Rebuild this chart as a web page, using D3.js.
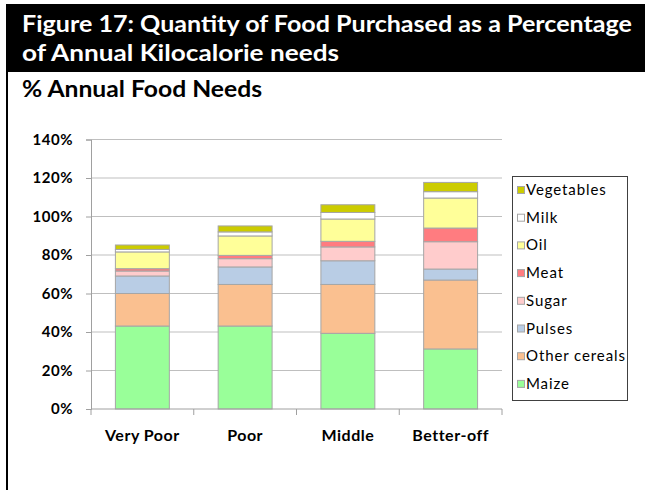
<!DOCTYPE html>
<html>
<head>
<meta charset="utf-8">
<script src="https://cdn.jsdelivr.net/npm/d3@7"></script>
<style>
html,body{margin:0;padding:0;background:#fff;}
svg{display:block;font-family:Lato,"Open Sans",sans-serif;}
</style>
</head>
<body>
<svg id="chart" width="645" height="490"></svg>
<script>
const categories = ["Very Poor", "Poor", "Middle", "Better-off"];
const seriesNames = ["Maize", "Other cereals", "Pulses", "Sugar", "Meat", "Oil", "Milk", "Vegetables"];
const maize        = [0.431, 0.431, 0.393, 0.312];
const otherCereals = [0.169, 0.216, 0.254, 0.358];
const pulses       = [0.091, 0.091, 0.123, 0.057];
const sugar        = [0.026, 0.043, 0.072, 0.142];
const meat         = [0.012, 0.017, 0.029, 0.071];
const oil          = [0.087, 0.101, 0.116, 0.156];
const milk         = [0.013, 0.021, 0.034, 0.033];
const vegetables   = [0.023, 0.031, 0.040, 0.048];
const colors = ["#99FF99", "#FAC090", "#B9CDE5", "#FFCCCC", "#FF7C80", "#FFFF99", "#FFFFFF", "#CCCC00"];
const yTicks = [0, 0.2, 0.4, 0.6, 0.8, 1.0, 1.2, 1.4];
const titleLines = ["Figure 17: Quantity of Food Purchased as a Percentage", "of Annual Kilocalorie needs"];
const subtitle = "% Annual Food Needs";

const values = [maize, otherCereals, pulses, sugar, meat, oil, milk, vegetables];
const table = categories.map((c, i) => {
  const row = {cat: c};
  seriesNames.forEach((s, j) => row[s] = values[j][i]);
  return row;
});

const svg = d3.select("#chart");

// Title banner
svg.append("rect").attr("x", 6).attr("y", 4).attr("width", 639).attr("height", 68).attr("fill", "#000");
svg.append("line").attr("x1", 7).attr("x2", 7).attr("y1", 70).attr("y2", 490).attr("stroke", "#000").attr("stroke-width", 2);
svg.append("text").attr("x", 22).attr("y", 32).attr("fill", "#fff").attr("font-size", 22).attr("font-weight", "bold")
  .attr("textLength", 610).attr("lengthAdjust", "spacingAndGlyphs").text(titleLines[0]);
svg.append("text").attr("x", 22).attr("y", 61).attr("fill", "#fff").attr("font-size", 22).attr("font-weight", "bold")
  .attr("textLength", 317).attr("lengthAdjust", "spacingAndGlyphs").text(titleLines[1]);
svg.append("text").attr("x", 22).attr("y", 97).attr("fill", "#000").attr("font-size", 22).attr("font-weight", "bold")
  .attr("textLength", 240).attr("lengthAdjust", "spacingAndGlyphs").text(subtitle);

const x = d3.scaleBand().domain(categories).range([91, 502]).paddingInner(0.475).paddingOuter(0.2375);
const y = d3.scaleLinear().domain([0, 1.4]).range([409, 139.5]);

// gridlines
svg.append("g").selectAll("line").data(yTicks.slice(1)).join("line")
  .attr("x1", 91).attr("x2", 502).attr("y1", d => y(d)).attr("y2", d => y(d))
  .attr("stroke", "#BFBFBF").attr("stroke-width", 1);

// y axis
const yAxis = svg.append("g").attr("transform", "translate(91,0)")
  .call(d3.axisLeft(y).tickValues(yTicks).tickFormat(d3.format(".0%")).tickSize(5).tickPadding(13));
yAxis.select(".domain").attr("stroke", "#A0A0A0");
yAxis.selectAll(".tick line").attr("stroke", "#A0A0A0");
yAxis.selectAll("text").attr("font-size", 15).attr("font-weight", "bold").attr("fill", "#000")
  .attr("font-family", "Lato, sans-serif").attr("letter-spacing", 0.5);

// stacked bars
const stack = d3.stack().keys(seriesNames)(table);
const groups = svg.append("g").selectAll("g").data(stack).join("g")
  .attr("fill", (d, i) => colors[i]);
groups.selectAll("rect").data(d => d).join("rect")
  .attr("x", d => x(d.data.cat))
  .attr("width", x.bandwidth())
  .attr("y", d => y(d[1]))
  .attr("height", d => y(d[0]) - y(d[1]))
  .attr("stroke", "#A6A6A6").attr("stroke-width", 1);

// x axis
const xAxisG = svg.append("g").attr("transform", "translate(0,409)");
xAxisG.append("line").attr("x1", 91).attr("x2", 502).attr("y1", 0).attr("y2", 0).attr("stroke", "#A0A0A0");
const bounds = categories.map(c => x(c) - x.step() * x.paddingInner() / 2).concat([502]);
xAxisG.selectAll("line.tk").data(bounds).join("line").attr("class", "tk")
  .attr("x1", d => d).attr("x2", d => d).attr("y1", 0).attr("y2", 6).attr("stroke", "#A0A0A0");
xAxisG.selectAll("text").data(categories).join("text")
  .attr("x", d => x(d) + x.bandwidth() / 2).attr("y", 32)
  .attr("text-anchor", "middle").attr("font-size", 16).attr("font-weight", "bold").attr("fill", "#000")
  .attr("letter-spacing", 0.5)
  .text(d => d);

// legend
const legend = svg.append("g");
legend.append("rect").attr("x", 512.5).attr("y", 176.5).attr("width", 115).attr("height", 224)
  .attr("fill", "#fff").attr("stroke", "#404040").attr("stroke-width", 1);
const legendOrder = seriesNames.map((s, i) => ({name: s, color: colors[i]})).reverse();
const li = legend.selectAll("g.item").data(legendOrder).join("g").attr("class", "item")
  .attr("transform", (d, i) => `translate(517,${190 + i * 27.7})`);
li.append("rect").attr("x", 0.5).attr("y", -3.5).attr("width", 7).attr("height", 7)
  .attr("fill", d => d.color).attr("stroke", "#A6A6A6").attr("stroke-width", 1);
li.append("text").attr("x", 9).attr("y", 5).attr("font-size", 15).attr("letter-spacing", 0.9)
  .attr("fill", "#000").text(d => d.name);
</script>
</body>
</html>
